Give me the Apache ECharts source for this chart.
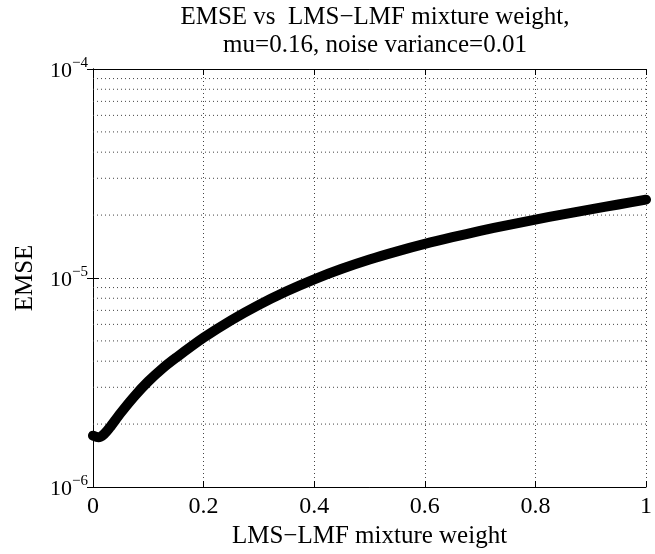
<!DOCTYPE html>
<html>
<head>
<meta charset="utf-8">
<script src="https://cdn.jsdelivr.net/npm/echarts@6/dist/echarts.min.js"></script>
<style>
html,body{margin:0;padding:0;background:#fff;}
#chart{width:655px;height:554px;}
</style>
</head>
<body>
<div id="chart"></div>
<script>
// Data
const mixtureWeight = [0, 0.01, 0.02, 0.03, 0.05, 0.075, 0.1, 0.125, 0.15, 0.2, 0.25, 0.3, 0.35, 0.4, 0.45, 0.5, 0.55, 0.6, 0.65, 0.7, 0.75, 0.8, 0.85, 0.9, 0.95, 1.0];
const emseValues = [1.76e-6, 1.73e-6, 1.79e-6, 1.92e-6, 2.26e-6, 2.72e-6, 3.2e-6, 3.68e-6, 4.15e-6, 5.18e-6, 6.28e-6, 7.44e-6, 8.64e-6, 9.86e-6, 1.107e-5, 1.226e-5, 1.341e-5, 1.455e-5, 1.567e-5, 1.680e-5, 1.792e-5, 1.903e-5, 2.016e-5, 2.131e-5, 2.248e-5, 2.37e-5];
const xTicks = [0, 0.2, 0.4, 0.6, 0.8, 1];
const yDecades = [1e-6, 1e-5, 1e-4];
const yMinorGrid = [2e-6, 3e-6, 4e-6, 5e-6, 6e-6, 7e-6, 8e-6, 9e-6, 2e-5, 3e-5, 4e-5, 5e-5, 6e-5, 7e-5, 8e-5, 9e-5];
const titleLines = ['EMSE vs  LMS\u2212LMF mixture weight,', 'mu=0.16, noise variance=0.01'];
const xName = 'LMS\u2212LMF mixture weight';
const yName = 'EMSE';

const FONT = '"Liberation Serif", "DejaVu Serif", serif';
const gridDot = {color: '#444', width: 1, type: [1, 3]};
const xMin = xTicks[0], xMax = xTicks[xTicks.length - 1];

const chart = echarts.init(document.getElementById('chart'), null, {renderer: 'canvas'});

const gridSeries = yMinorGrid.map(v => ({
  type: 'line', xAxisIndex: 0, yAxisIndex: 0, silent: true,
  data: [[xMin, v], [xMax, v]],
  showSymbol: false, symbol: 'none',
  lineStyle: gridDot, z: 1, tooltip: {show: false}
}));

const option = {
  animation: false,
  backgroundColor: '#fff',
  title: {
    text: titleLines.join('\n'),
    left: 370, top: -2, textAlign: 'center',
    textStyle: {fontFamily: FONT, fontWeight: 'normal', fontSize: 25, color: '#000', lineHeight: 28}
  },
  grid: {left: 93, right: 5, top: 69, bottom: 67, containLabel: false},
  xAxis: [{
    type: 'value', min: xMin, max: xMax, interval: 0.2,
    name: xName, nameLocation: 'middle', nameGap: 34,
    nameTextStyle: {fontFamily: FONT, fontSize: 25, color: '#000'},
    axisLine: {show: true, lineStyle: {color: '#000', width: 1}},
    axisTick: {show: true, inside: true, length: 6, lineStyle: {color: '#000'}},
    axisLabel: {fontFamily: FONT, fontSize: 24, color: '#000', margin: 8,
      formatter: v => String(+v.toFixed(1))},
    splitLine: {show: true, lineStyle: gridDot}
  }, {
    type: 'value', min: xMin, max: xMax, interval: 0.2, position: 'top',
    axisLine: {show: true, onZero: false, lineStyle: {color: '#000', width: 1}},
    axisTick: {show: true, inside: true, length: 6, lineStyle: {color: '#000'}},
    axisLabel: {show: false}, splitLine: {show: false}
  }],
  yAxis: [{
    type: 'log', logBase: 10, min: yDecades[0], max: yDecades[yDecades.length - 1],
    name: yName, nameLocation: 'middle', nameGap: 55, nameRotate: 90,
    nameTextStyle: {fontFamily: FONT, fontSize: 25, color: '#000'},
    axisLine: {show: true, lineStyle: {color: '#000', width: 1}},
    axisTick: {show: true, inside: true, length: 6, lineStyle: {color: '#000'}},
    axisLabel: {
      margin: 5,
      formatter: v => {
        const e = Math.round(Math.log10(v));
        return '{b|10}{s|\u2212' + Math.abs(e) + '}';
      },
      rich: {
        b: {fontFamily: FONT, fontSize: 22, color: '#000', verticalAlign: 'bottom'},
        s: {fontFamily: FONT, fontSize: 15, color: '#000', padding: [0, 0, 12, 0], verticalAlign: 'bottom'}
      }
    },
    splitLine: {show: true, lineStyle: gridDot}
  }, {
    type: 'log', logBase: 10, min: yDecades[0], max: yDecades[yDecades.length - 1], position: 'right',
    axisLine: {show: true, lineStyle: {color: '#000', width: 1}},
    axisTick: {show: true, inside: true, length: 6, lineStyle: {color: '#000'}},
    axisLabel: {show: false}, splitLine: {show: false}
  }],
  series: gridSeries.concat([{
    type: 'line',
    xAxisIndex: 0, yAxisIndex: 0,
    data: mixtureWeight.map((x, i) => [x, emseValues[i]]),
    smooth: 0.3,
    showSymbol: false,
    lineStyle: {color: '#000', width: 10, cap: 'round', join: 'round'},
    z: 5
  }])
};
chart.setOption(option);
</script>
</body>
</html>
